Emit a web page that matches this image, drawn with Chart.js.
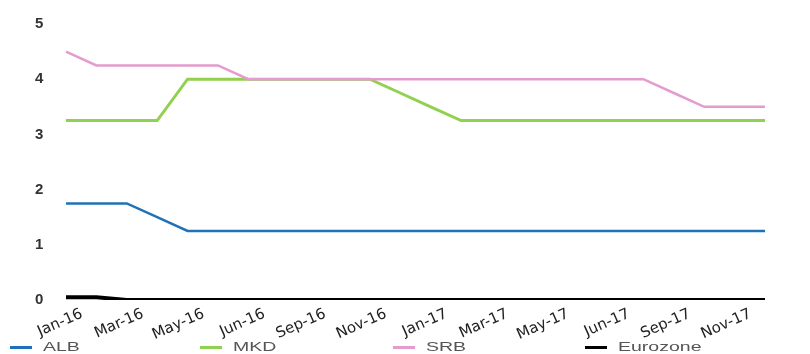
<!DOCTYPE html>
<html>
<head>
<meta charset="utf-8">
<script src="https://cdn.jsdelivr.net/npm/chart.js@4/dist/chart.umd.min.js"></script>
<style>
  html, body { margin: 0; padding: 0; background: #fff; }
  #wrap { position: relative; width: 810px; height: 354px; }
  #chart { position: absolute; left: 0; top: 0; }
  .key { position: absolute; top: 339px; height: 18px; }
  .key i { position: absolute; left: 0; top: 7px; width: 22px; height: 3px; }
  .key span {
    position: absolute; left: 33px; top: 0; line-height: 18px;
    font: 13px "Liberation Sans", Arial, sans-serif; color: #555;
    transform: scaleX(1.5); transform-origin: 0 50%; white-space: nowrap;
  }
</style>
</head>
<body>
<div id="wrap">
  <canvas id="chart" width="810" height="354"></canvas>
  <div id="legend"></div>
</div>
<script>
// Monthly policy rates, Jan-16 .. Dec-17 (labels on every second month)
const categories = ['Jan-16','','Mar-16','','May-16','','Jun-16','','Sep-16','','Nov-16','',
                    'Jan-17','','Mar-17','','May-17','','Jun-17','','Sep-17','','Nov-17',''];
const alb = [1.75,1.75,1.75,1.5,1.25,1.25,1.25,1.25,1.25,1.25,1.25,1.25,
             1.25,1.25,1.25,1.25,1.25,1.25,1.25,1.25,1.25,1.25,1.25,1.25];
const mkd = [3.25,3.25,3.25,3.25,4,4,4,4,4,4,4,3.75,
             3.5,3.25,3.25,3.25,3.25,3.25,3.25,3.25,3.25,3.25,3.25,3.25];
const srb = [4.5,4.25,4.25,4.25,4.25,4.25,4,4,4,4,4,4,
             4,4,4,4,4,4,4,4,3.75,3.5,3.5,3.5];
const eurozone = [0.05,0.05,0,0,0,0,0,0,0,0,0,0,
                  0,0,0,0,0,0,0,0,0,0,0,0];
const yTicks = [0,1,2,3,4,5];

const seriesNames = ['ALB','MKD','SRB','Eurozone'];
const seriesColors = ['#1f72b8','#92d050','#e39ccd','#000000'];
const seriesWidths = [2.5,3,2.5,4];
const seriesData = [alb, mkd, srb, eurozone];

const datasets = seriesNames.map((name, i) => ({
  label: name,
  data: seriesData[i],
  borderColor: seriesColors[i],
  backgroundColor: seriesColors[i],
  borderWidth: seriesWidths[i],
  pointRadius: 0,
  pointHoverRadius: 0,
  tension: 0,
  fill: false
}));
// draw Eurozone first so the coloured lines sit above it
datasets.reverse();

new Chart(document.getElementById('chart'), {
  type: 'line',
  data: { labels: categories, datasets },
  options: {
    responsive: false,
    animation: false,
    layout: { padding: { left: 35, right: 45, top: 24, bottom: 0 } },
    plugins: { legend: { display: false }, tooltip: { enabled: false } },
    scales: {
      x: {
        grid: { display: false, drawTicks: false },
        border: { display: false },
        ticks: {
          autoSkip: false,
          minRotation: 24, maxRotation: 24,
          padding: 5,
          labelOffset: 16,
          color: '#222',
          font: { family: 'DejaVu Sans', size: 15 }
        },
        afterFit: s => { s.height = 54; }
      },
      y: {
        min: 0, max: 5,
        grid: { display: false, drawTicks: false },
        border: { display: false },
        afterBuildTicks: s => { s.ticks = yTicks.map(v => ({ value: v })); },
        ticks: {
          crossAlign: 'far',
          padding: 3,
          color: '#333',
          font: { family: 'Liberation Sans', size: 15, weight: 'bold' }
        },
        afterFit: s => { s.width = 31; }
      }
    }
  }
});

// legend row under the plot
const legendX = [10, 200, 393, 585];
const legend = document.getElementById('legend');
seriesNames.forEach((name, i) => {
  const d = document.createElement('div');
  d.className = 'key';
  d.style.left = legendX[i] + 'px';
  const mark = document.createElement('i');
  mark.style.background = seriesColors[i];
  const txt = document.createElement('span');
  txt.textContent = name;
  d.appendChild(mark);
  d.appendChild(txt);
  legend.appendChild(d);
});
</script>
</body>
</html>
